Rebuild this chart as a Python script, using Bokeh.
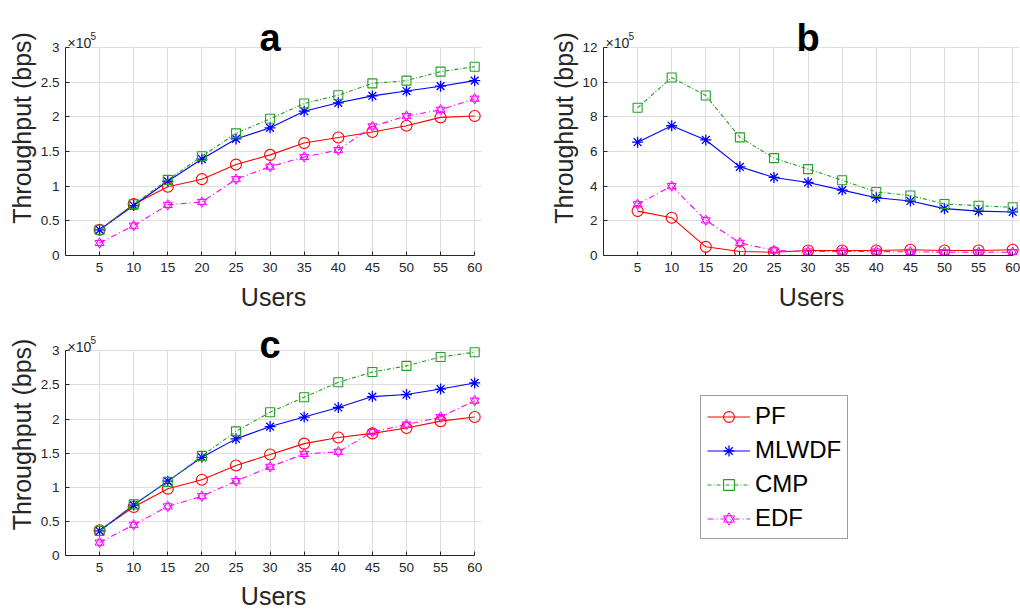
from bokeh.plotting import figure
from bokeh.layouts import row, column
from bokeh.models import (Range1d, FixedTicker, NumeralTickFormatter, Label,
                          Legend, LegendItem, BoxAnnotation)
from bokeh.embed import file_html
from bokeh.resources import INLINE

# ---------------- data (throughput in units of 1e5 bps) ----------------
users = [5, 10, 15, 20, 25, 30, 35, 40, 45, 50, 55, 60]
series_names = ["PF", "MLWDF", "CMP", "EDF"]

a_pf = [0.37, 0.74, 0.99, 1.10, 1.31, 1.45, 1.62, 1.70, 1.78, 1.87, 1.99, 2.01]
a_mlwdf = [0.37, 0.72, 1.07, 1.39, 1.68, 1.84, 2.08, 2.20, 2.30, 2.37, 2.44, 2.52]
a_cmp = [0.37, 0.74, 1.09, 1.43, 1.76, 1.97, 2.19, 2.31, 2.48, 2.52, 2.65, 2.72]
a_edf = [0.18, 0.43, 0.73, 0.77, 1.10, 1.28, 1.42, 1.52, 1.86, 2.01, 2.10, 2.26]

b_pf = [2.56, 2.18, 0.50, 0.23, 0.19, 0.29, 0.29, 0.29, 0.33, 0.29, 0.29, 0.33]
b_mlwdf = [6.53, 7.48, 6.66, 5.11, 4.50, 4.21, 3.77, 3.33, 3.14, 2.70, 2.56, 2.51]
b_cmp = [8.52, 10.26, 9.22, 6.81, 5.61, 4.98, 4.34, 3.66, 3.46, 2.97, 2.87, 2.78]
b_edf = [2.95, 4.00, 2.03, 0.73, 0.29, 0.23, 0.23, 0.23, 0.21, 0.19, 0.19, 0.19]

c_pf = [0.37, 0.71, 0.98, 1.11, 1.32, 1.48, 1.64, 1.73, 1.79, 1.87, 1.97, 2.03]
c_mlwdf = [0.36, 0.74, 1.09, 1.44, 1.71, 1.89, 2.03, 2.17, 2.33, 2.36, 2.44, 2.53]
c_cmp = [0.36, 0.75, 1.08, 1.46, 1.82, 2.10, 2.32, 2.54, 2.69, 2.78, 2.91, 2.98]
c_edf = [0.19, 0.45, 0.72, 0.87, 1.09, 1.30, 1.49, 1.52, 1.81, 1.92, 2.03, 2.27]

ab_yticks = [0, 0.5, 1, 1.5, 2, 2.5, 3]
b_yticks = [0, 2, 4, 6, 8, 10, 12]

# ---------------- styling ----------------
FONT = "Liberation Sans"
TXT = "#262626"
GRID = "#dedede"
COLORS = {"PF": "#ff0000", "MLWDF": "#0000ff", "CMP": "#22a022", "EDF": "#ff00ff"}
DASH = {"PF": "solid", "MLWDF": "solid", "CMP": "4 2 1 2", "EDF": "6 3 1 3"}


def draw_series(p, name, xs, ys):
    col = COLORS[name]
    rs = [p.line(xs, ys, line_color=col, line_width=1.1, line_dash=DASH[name])]
    if name == "PF":
        rs.append(p.scatter(xs, ys, marker="circle", size=11, fill_color=None,
                            line_color=col, line_width=1.1))
    elif name == "MLWDF":
        rs.append(p.scatter(xs, ys, marker="asterisk", size=11,
                            line_color=col, line_width=1.3))
    elif name == "CMP":
        rs.append(p.scatter(xs, ys, marker="square", size=9, fill_color=None,
                            line_color=col, line_width=1.1))
    else:
        rs.append(p.scatter(xs, ys, marker="triangle", size=9, fill_color=None,
                            line_color=col, line_width=1.0))
        rs.append(p.scatter(xs, ys, marker="inverted_triangle", size=9, fill_color=None,
                            line_color=col, line_width=1.0))
    return rs


def make_panel(title, data, yticks, width, height, bl, br, bb, top_px,
               xl_s1, xl_s2, yl_s2, title_off):
    ymax = yticks[-1]
    fh = height - bb
    ytop = ymax * fh / (fh - top_px)   # frame extends above the axes box
    p = figure(width=width, height=height, x_range=Range1d(0, 61),
               y_range=Range1d(0, ytop), output_backend="svg",
               toolbar_location=None, min_border_left=bl, min_border_right=br,
               min_border_top=0, min_border_bottom=bb)
    p.outline_line_color = None
    p.background_fill_color = "white"
    p.border_fill_color = "white"

    p.xaxis.ticker = FixedTicker(ticks=users)
    p.yaxis.ticker = FixedTicker(ticks=yticks)
    p.yaxis.formatter = NumeralTickFormatter(format="0.[0]")
    p.xaxis.bounds = (0, 60)
    p.yaxis.bounds = (0, ymax)
    p.xgrid.ticker = FixedTicker(ticks=users)
    p.ygrid.ticker = FixedTicker(ticks=yticks)
    p.grid.grid_line_color = GRID
    p.grid.grid_line_width = 1

    for ax in (p.xaxis, p.yaxis):
        ax.axis_line_color = TXT
        ax.major_tick_line_color = TXT
        ax.major_tick_in = 4
        ax.major_tick_out = 0
        ax.minor_tick_line_color = None
        ax.major_label_text_font = FONT
        ax.major_label_text_font_size = "13.5px"
        ax.major_label_text_color = TXT
        ax.axis_label_text_font = FONT
        ax.axis_label_text_font_size = "25px"
        ax.axis_label_text_font_style = "normal"
        ax.axis_label_text_color = TXT
    p.xaxis.axis_label = "Users"
    p.yaxis.axis_label = "Throughput (bps)"
    p.xaxis.major_label_standoff = xl_s1
    p.xaxis.axis_label_standoff = xl_s2
    p.yaxis.major_label_standoff = 6
    p.yaxis.axis_label_standoff = yl_s2

    # white cover above the axes box so grid lines stop at the top tick
    p.add_layout(BoxAnnotation(bottom=ymax * 1.004, fill_color="white",
                               fill_alpha=1, line_color=None, level="underlay"))

    for name, ys in zip(series_names, data):
        draw_series(p, name, users, ys)

    p.add_layout(Label(x=30, y=ymax, y_offset=title_off, text=title,
                       text_font=FONT, text_font_size="38px",
                       text_font_style="bold", text_align="center",
                       text_baseline="alphabetic", text_color="black"))
    p.add_layout(Label(x=0, y=ymax, x_offset=2, y_offset=4, text="\u00d710",
                       text_font=FONT, text_font_size="14px",
                       text_baseline="alphabetic", text_color=TXT))
    p.add_layout(Label(x=0, y=ymax, x_offset=25, y_offset=11, text="5",
                       text_font=FONT, text_font_size="10px",
                       text_baseline="alphabetic", text_color=TXT))
    return p


pa = make_panel("a", [a_pf, a_mlwdf, a_cmp, a_edf], ab_yticks,
                540, 313, 65, 59, 57, 47, 7, 8, 2, 9)
pb = make_panel("b", [b_pf, b_mlwdf, b_cmp, b_edf], b_yticks,
                480, 313, 63, 1, 57, 47, 7, 8, 1, 9)
pc = make_panel("c", [c_pf, c_mlwdf, c_cmp, c_edf], ab_yticks,
                540, 299, 65, 59, 53, 38, 7, 7, 2, 6)

# ---------------- legend panel ----------------
pl = figure(width=480, height=299, x_range=Range1d(0, 1), y_range=Range1d(0, 1),
            output_backend="svg", toolbar_location=None, min_border=0,
            x_axis_location=None, y_axis_location=None)
pl.grid.visible = False
pl.outline_line_color = None
items = []
for name in series_names:
    rs = draw_series(pl, name, [-5], [-5])
    items.append(LegendItem(label=name, renderers=rs))
legend = Legend(items=items, location=(97, 73), orientation="vertical",
                label_text_font=FONT, label_text_font_size="24px",
                label_text_color="black", glyph_width=43, glyph_height=27,
                label_height=27, label_standoff=5, spacing=6, padding=6,
                margin=0, border_line_color="#3a3a3a", border_line_width=1,
                background_fill_color="white", background_fill_alpha=1)
pl.add_layout(legend)

layout = row(column(pa, pc), column(pb, pl))

open("out.html", "w").write(file_html(layout, INLINE))
